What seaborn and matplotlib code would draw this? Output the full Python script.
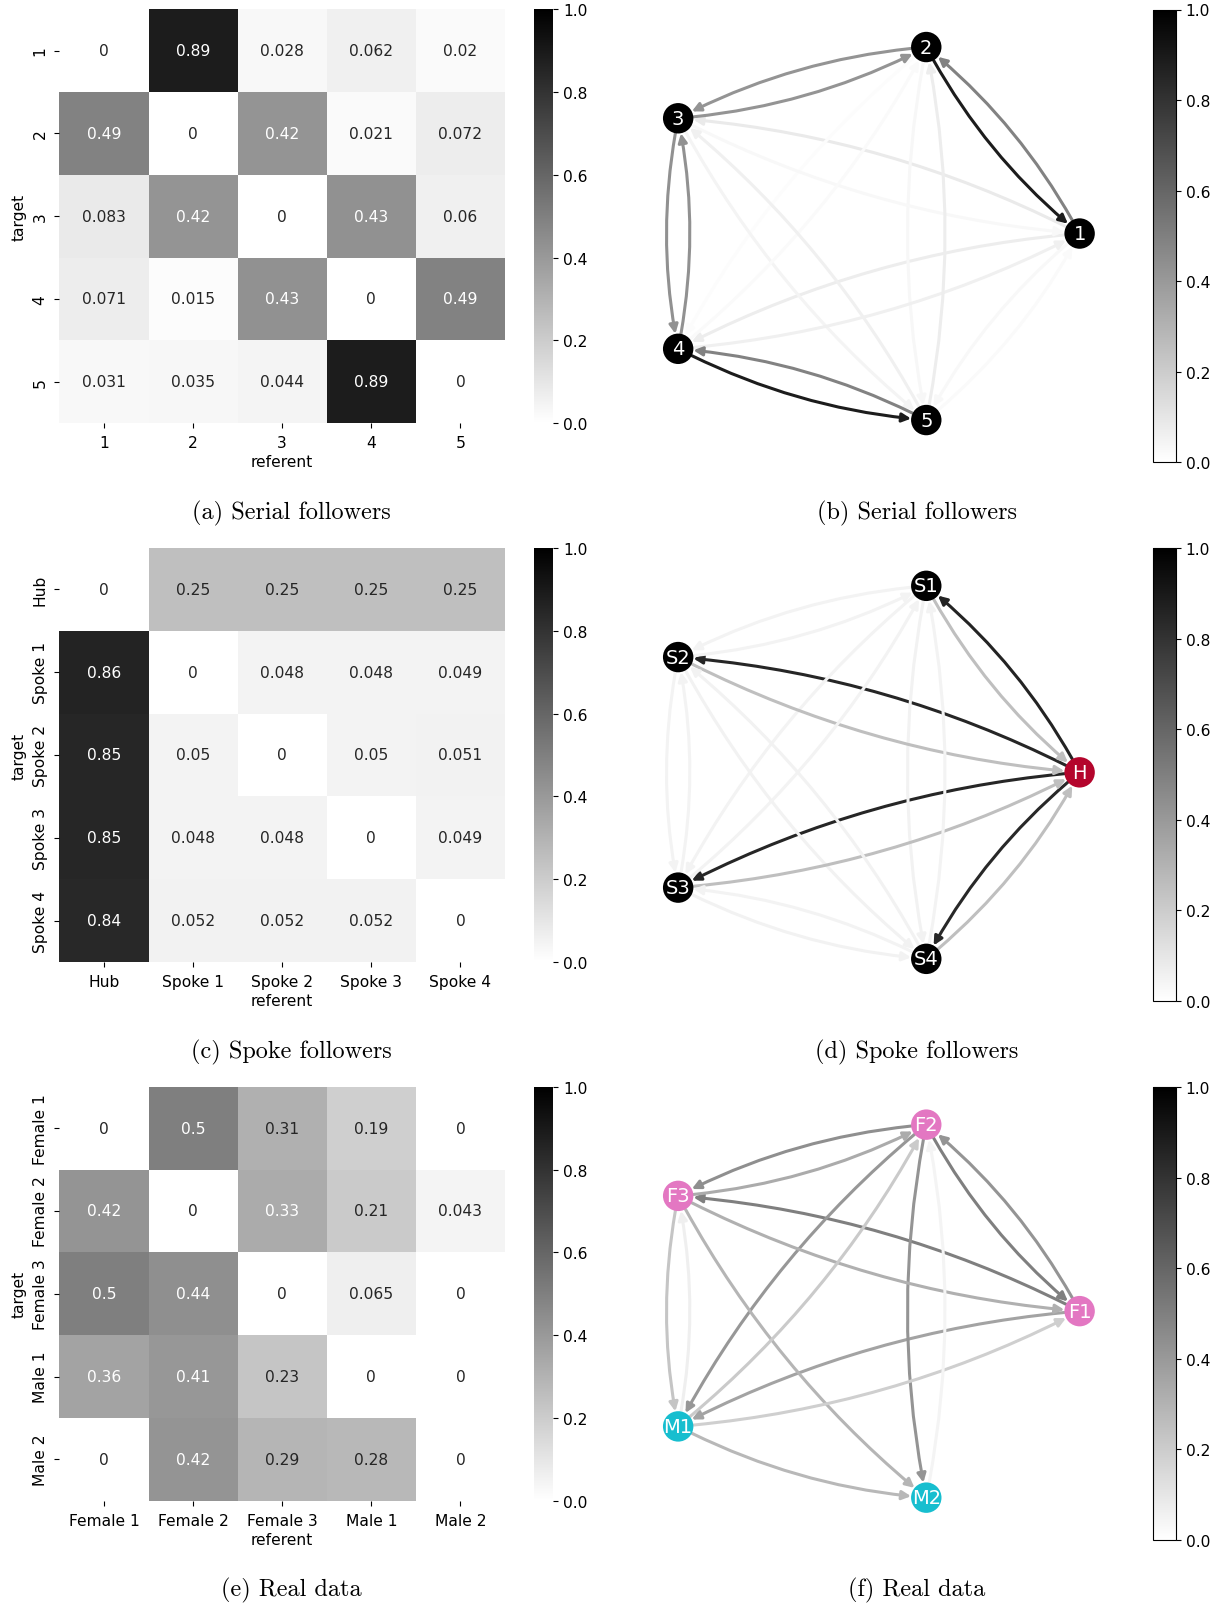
import numpy as np
import pandas as pd
import matplotlib
matplotlib.use("Agg")
import matplotlib.pyplot as plt
import seaborn as sns
from matplotlib.patches import FancyArrowPatch
from matplotlib.colors import Normalize
from matplotlib.cm import ScalarMappable

# ---- data: rows = target, columns = referent ----
serial_labels = ["1", "2", "3", "4", "5"]
serial_nodes = ["1", "2", "3", "4", "5"]
serial_values = [
    [0, 0.89, 0.028, 0.062, 0.02],
    [0.49, 0, 0.42, 0.021, 0.072],
    [0.083, 0.42, 0, 0.43, 0.06],
    [0.071, 0.015, 0.43, 0, 0.49],
    [0.031, 0.035, 0.044, 0.89, 0],
]
serial_node_colors = ["black", "black", "black", "black", "black"]

spoke_labels = ["Hub", "Spoke 1", "Spoke 2", "Spoke 3", "Spoke 4"]
spoke_nodes = ["H", "S1", "S2", "S3", "S4"]
spoke_values = [
    [0, 0.25, 0.25, 0.25, 0.25],
    [0.86, 0, 0.048, 0.048, 0.049],
    [0.85, 0.05, 0, 0.05, 0.051],
    [0.85, 0.048, 0.048, 0, 0.049],
    [0.84, 0.052, 0.052, 0.052, 0],
]
spoke_node_colors = ["#b4052c", "black", "black", "black", "black"]

real_labels = ["Female 1", "Female 2", "Female 3", "Male 1", "Male 2"]
real_nodes = ["F1", "F2", "F3", "M1", "M2"]
real_values = [
    [0, 0.5, 0.31, 0.19, 0],
    [0.42, 0, 0.33, 0.21, 0.043],
    [0.5, 0.44, 0, 0.065, 0],
    [0.36, 0.41, 0.23, 0, 0],
    [0, 0.42, 0.29, 0.28, 0],
]
real_node_colors = ["#e377c2", "#e377c2", "#e377c2", "#17becf", "#17becf"]

captions = [
    ("(a) Serial followers", "(b) Serial followers"),
    ("(c) Spoke followers", "(d) Spoke followers"),
    ("(e) Real data", "(f) Real data"),
]

panels = [
    (serial_labels, serial_nodes, serial_values, serial_node_colors),
    (spoke_labels, spoke_nodes, spoke_values, spoke_node_colors),
    (real_labels, real_nodes, real_values, real_node_colors),
]

W, H = 1221, 1606
fig = plt.figure(figsize=(W / 100, H / 100), dpi=100)
cmap = plt.get_cmap("gray_r")
norm = Normalize(vmin=0, vmax=1)
FS = 11.2


def frac(x0, y0, x1, y1):
    return [x0 / W, 1 - y1 / H, (x1 - x0) / W, (y1 - y0) / H]


def draw_network(ax, names, values, node_colors):
    n = len(names)
    theta = 2 * np.pi * np.arange(n) / n
    pos = np.column_stack([np.cos(theta), np.sin(theta)])
    ax.set_xlim(-0.981, 1.182)
    ax.set_ylim(-1.166, 1.144)
    ax.axis("off")
    # edges go from referent (column) to target (row)
    for j in range(n):
        for i in range(n):
            v = values[i][j]
            if i == j or v <= 0:
                continue
            arr = FancyArrowPatch(
                tuple(pos[j]), tuple(pos[i]),
                arrowstyle="-|>", mutation_scale=13, lw=2.2,
                color=cmap(norm(v)), connectionstyle="arc3,rad=0.1",
                shrinkA=11, shrinkB=11, zorder=1,
            )
            ax.add_patch(arr)
    ax.scatter(pos[:, 0], pos[:, 1], s=480, c=node_colors, zorder=2,
               edgecolors="none")
    for (x, y), name in zip(pos, names):
        ax.text(x, y, name, color="white", ha="center", va="center",
                fontsize=14, zorder=3)


for r, (labels, nodes, values, ncolors) in enumerate(panels):
    t = 10.2 + 538.8 * r
    df = pd.DataFrame(values, index=labels, columns=labels)

    ax = fig.add_axes(frac(59.4, t, 505, t + 414))
    cax = fig.add_axes(frac(533.7, t, 553.1, t + 414))
    sns.heatmap(df, cmap="gray_r", vmin=0, vmax=1, annot=True, ax=ax,
                cbar_ax=cax, annot_kws={"size": FS})
    ax.set_xlabel("referent", fontsize=FS, labelpad=3)
    ax.set_ylabel("target", fontsize=FS)
    ax.tick_params(labelsize=FS, pad=5)
    cax.tick_params(labelsize=FS)

    nax = fig.add_axes(frac(640, t, 1120, t + 453))
    draw_network(nax, nodes, values, ncolors)
    ncax = fig.add_axes(frac(1153, t + 0.3, 1176, t + 453))
    sm = ScalarMappable(norm=norm, cmap=cmap)
    fig.colorbar(sm, cax=ncax)
    ncax.tick_params(labelsize=FS)

    ya = 1 - (t + 503) / H
    fig.text(291 / W, ya, captions[r][0], ha="center", va="center",
             fontsize=17.5, family="cmr10")
    fig.text(917 / W, ya, captions[r][1], ha="center", va="center",
             fontsize=17.5, family="cmr10")

fig.savefig("out.png", dpi=100, facecolor="white")
